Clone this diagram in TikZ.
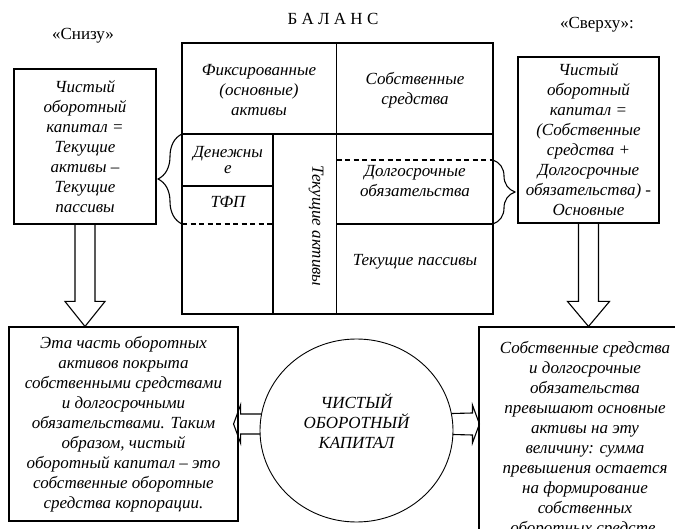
\documentclass[tikz,border=0pt]{standalone}
\usepackage{fontspec}
\setmainfont{Liberation Serif}
\usetikzlibrary{shapes.geometric,decorations.pathreplacing,calc}

\begin{document}
\begin{tikzpicture}[
 x=1pt, y=-1pt,
 txt/.style={font=\fontsize{17}{20}\selectfont\itshape, align=center, inner sep=0pt},
 caption/.style={font=\fontsize{17}{20}\selectfont, inner sep=0pt},
 box/.style={draw, rectangle, line width=1.1pt, txt},
 bal/.style={line width=1.1pt},
 fat/.style={line width=1.1pt, line join=miter},
 curly/.style={line width=1.1pt, decorate, decoration={brace, amplitude=#1}}
]
\useasboundingbox (0,0) rectangle (675,529);
\clip (0,0) rectangle (675,529);

% заголовки
\node[caption] (balans) at (333,19) {Б А Л А Н С};
\node[caption] (lblsnizu) at (83,36) {«Снизу»};
\node[caption] (lblsverhu) at (597,25) {«Сверху»:};

% баланс
\draw[bal] (182,43) rectangle (493,314);
\draw[bal] (182,134) -- (493,134);
\draw[bal] (336.5,43) -- (336.5,314);
\draw[bal] (273,134) -- (273,314);
\draw[bal] (182,186) -- (273,186);
\draw[bal, dash pattern=on 5pt off 3.5pt] (182,224) -- (273,224);
\draw[bal, dash pattern=on 5pt off 3.5pt] (336.5,160) -- (493,160);
\draw[bal] (336.5,224) -- (493,224);

\node[txt] (fixed) at (259,90) {Фиксированные\\(основные)\\активы};
\node[txt] (own) at (415,90) {Собственные\\средства};
\node[txt, font=\fontsize{17}{16}\selectfont\itshape] (money) at (228,160) {Денежны\\е};
\node[txt] (tfp) at (228,202) {ТФП};
\node[txt, rotate=-90] (curassets) at (316,226) {Текущие активы};
\node[txt] (longterm) at (415,181) {Долгосрочные\\обязательства};
\node[txt] (curliab) at (415,262) {Текущие пассивы};

% формулы
\node[box, minimum width=142, minimum height=155] (snizu) at (85,146.5) {
Чистый\\оборотный\\капитал =\\Текущие\\активы –\\Текущие\\пассивы
};
\node[box, minimum width=141, minimum height=166] (sverhu) at (588.5,140) {
Чистый\\оборотный\\капитал =\\(Собственные\\средства +\\Долгосрочные\\обязательства) -\\Основные
};

% скобки
\coordinate (lbrtop) at (182,134);
\coordinate (lbrbot) at (182,224);
\coordinate (rbrtop) at (493,160);
\coordinate (rbrbot) at (493,224);
\draw[curly=24] (lbrbot) -- (lbrtop);
\draw[curly=22] (rbrtop) -- (rbrbot);

% выводы
\node[box, minimum width=229, minimum height=194] (lowleft) at (123.5,424) {
Эта часть оборотных\\активов покрыта\\собственными средствами\\и долгосрочными\\обязательствами. Таким\\образом, чистый\\оборотный капитал – это\\собственные оборотные\\средства корпорации.
};
\node[box, minimum width=212, minimum height=224] (lowright) at (585,439) {
Собственные средства\\и долгосрочные\\обязательства\\превышают основные\\активы на эту\\величину: сумма\\превышения остается\\на формирование\\собственных\\оборотных средств.
};

% круг
\node[draw, ellipse, line width=0.9pt, minimum width=193, minimum height=183, inner sep=0pt] (kapital) at (356.5,430.5) {};
\node[txt] (kaplabel) at (356.5,421) {ЧИСТЫЙ\\ОБОРОТНЫЙ\\КАПИТАЛ};

% стрелки
\coordinate (t1) at (snizu.south |- lowleft.north);
\draw[fat] ($(snizu.south)+(-10,0)$) -- ($(t1)+(-10,-25)$) -- ($(t1)+(-20,-25)$) -- (t1)
 -- ($(t1)+(20,-25)$) -- ($(t1)+(10,-25)$) -- ($(snizu.south)+(10,0)$);
\coordinate (t2) at (sverhu.south |- lowright.north);
\draw[fat] ($(sverhu.south)+(-10,0)$) -- ($(t2)+(-10,-25)$) -- ($(t2)+(-21,-25)$) -- (t2)
 -- ($(t2)+(21,-25)$) -- ($(t2)+(10,-25)$) -- ($(sverhu.south)+(10,0)$);
\coordinate (t3) at ($(lowleft.east |- kapital.west)+(-5,-6.5)$);
\draw[fat] ($(kapital.west)+(1.5,-16.5)$) -- ($(t3)+(7,-10)$) -- ($(t3)+(7,-19)$) -- (t3)
 -- ($(t3)+(7,19)$) -- ($(t3)+(7,10)$) -- ($(kapital.west)+(0.5,3.5)$);
\coordinate (t4) at ($(lowright.west |- kapital.east)+(1,-6.5)$);
\draw[fat] ($(kapital.east)+(-1.5,-17)$) -- ($(t4)+(-7,-11)$) -- ($(t4)+(-7,-19)$) -- (t4)
 -- ($(t4)+(-7,19)$) -- ($(t4)+(-7,11)$) -- ($(kapital.east)+(-0.5,4)$);

\end{tikzpicture}
\end{document}
